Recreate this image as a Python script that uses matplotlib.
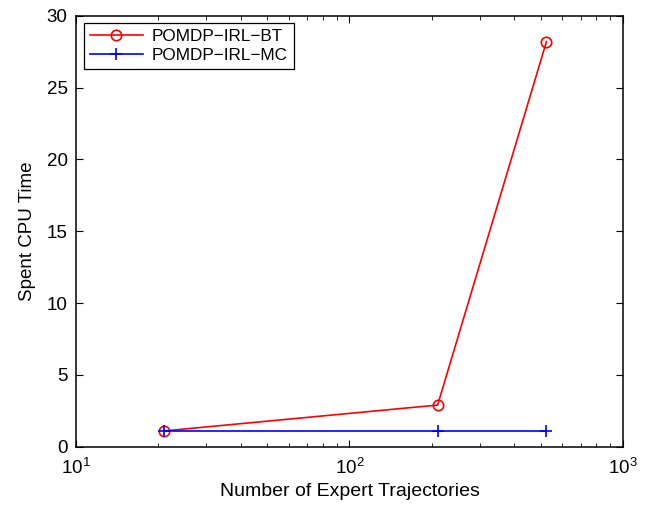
import matplotlib
matplotlib.use("Agg")
import matplotlib.pyplot as plt
from matplotlib.ticker import LogLocator, NullFormatter

plt.rcParams['font.family'] = ['Liberation Sans', 'DejaVu Sans']
plt.rcParams['mathtext.fontset'] = 'custom'
plt.rcParams['mathtext.rm'] = 'Liberation Sans'
plt.rcParams['mathtext.it'] = 'Liberation Sans'

trajectories = [21, 210, 525]
bt_time = [1.1, 2.9, 28.2]
mc_time = [1.1, 1.1, 1.1]
series_labels = ["POMDP\u2212IRL\u2212BT", "POMDP\u2212IRL\u2212MC"]

fig = plt.figure(figsize=(6.46, 5.05), dpi=100)
ax = fig.add_axes([0.1176, 0.1154, 0.8468, 0.8535])

ax.plot(trajectories, bt_time, color='red', lw=1.2, marker='o', mfc='none',
        mec='red', ms=7.5, mew=1.2, label=series_labels[0])
ax.plot(trajectories, mc_time, color='blue', lw=1.2, marker='+', ms=9,
        mew=1.2, label=series_labels[1])

ax.set_xscale('log')
ax.set_xlim(10, 1000)
ax.set_ylim(0, 30)
ax.set_yticks([0, 5, 10, 15, 20, 25, 30])
ax.xaxis.set_major_locator(LogLocator(base=10, numticks=5))
ax.xaxis.set_minor_locator(LogLocator(base=10, subs=range(2, 10), numticks=20))
ax.xaxis.set_minor_formatter(NullFormatter())

ax.tick_params(which='both', direction='in', top=True, right=True, labelsize=13.5)
ax.tick_params(which='major', length=5, width=0.8)
ax.tick_params(which='minor', length=3, width=0.6)
ax.tick_params(axis='x', pad=8)
ax.tick_params(axis='y', pad=6)
for s in ax.spines.values():
    s.set_linewidth(1.1)

ax.set_xlabel("Number of Expert Trajectories", fontsize=14, labelpad=4)
ax.set_ylabel("Spent CPU Time", fontsize=13.5, labelpad=8)

leg = ax.legend(loc='upper left', fontsize=12.3, frameon=True, fancybox=False,
                edgecolor='black', framealpha=1, borderaxespad=0.45,
                handlelength=3.1, borderpad=0.35, labelspacing=0.2,
                handletextpad=0.55)
leg.get_frame().set_linewidth(0.9)

fig.savefig("out.png", dpi=100)
